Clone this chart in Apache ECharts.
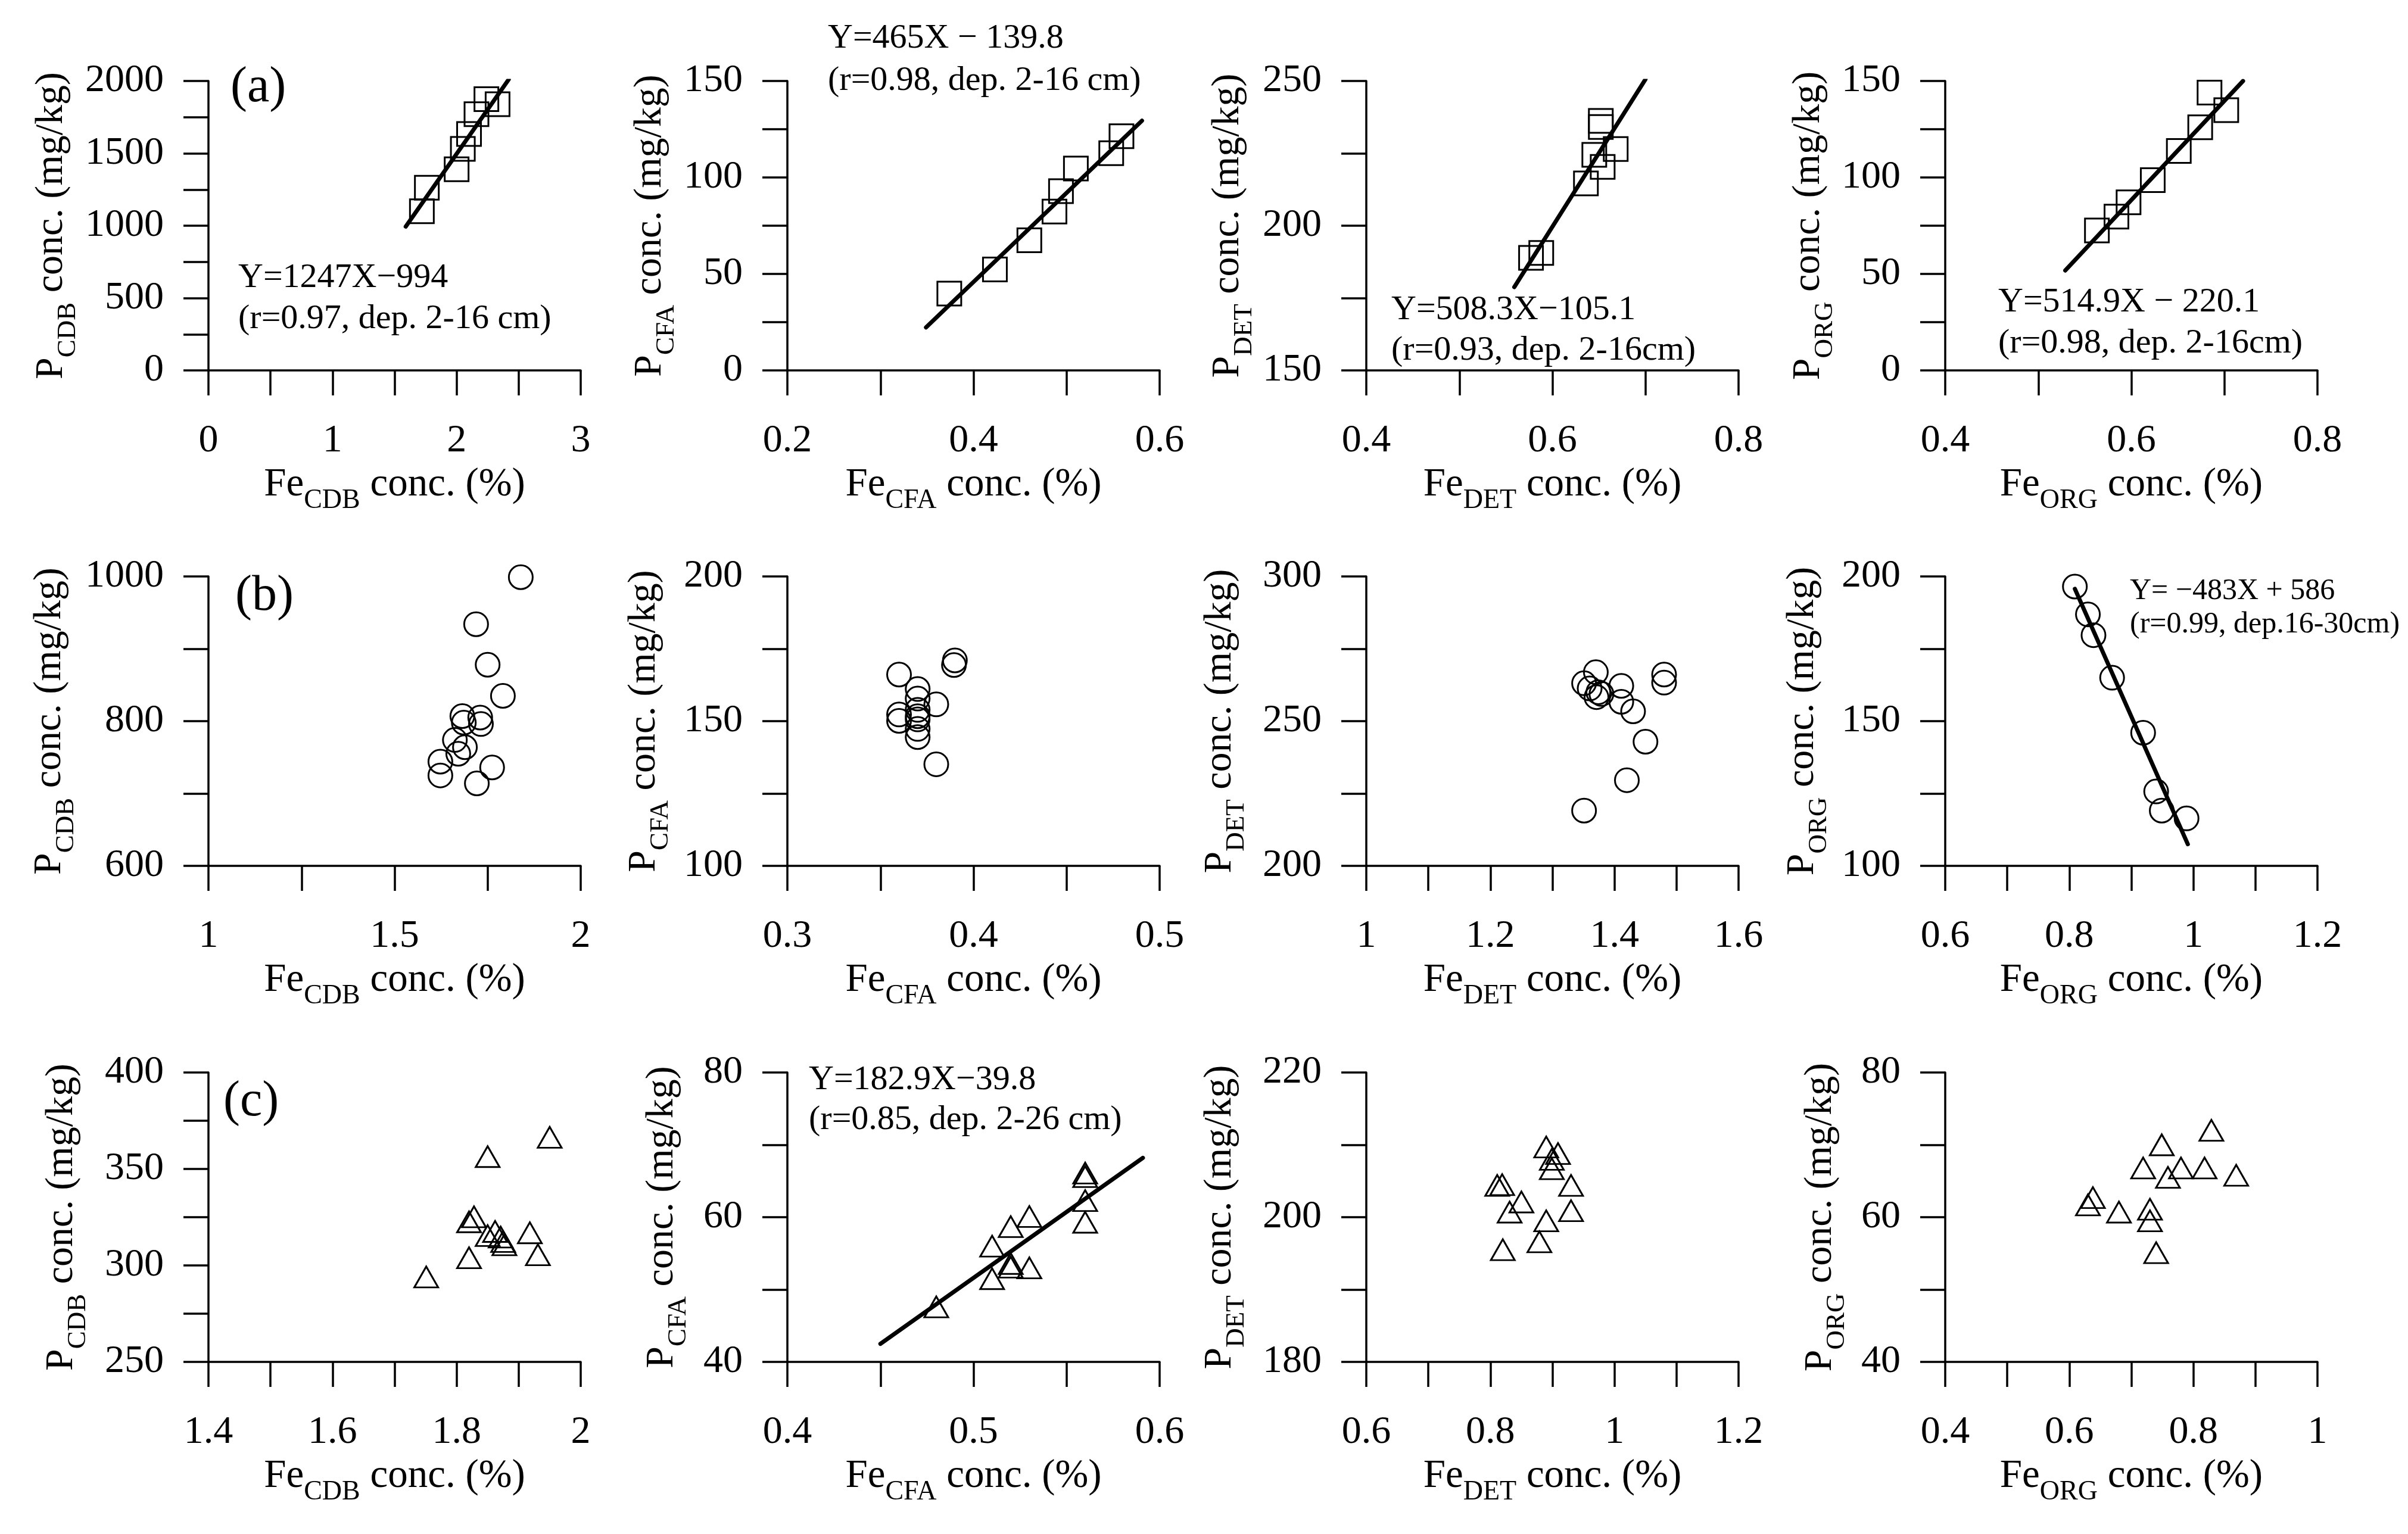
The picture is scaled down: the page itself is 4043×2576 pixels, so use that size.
<!DOCTYPE html>
<html><head><meta charset="utf-8">
<script src="https://cdn.jsdelivr.net/npm/echarts@6/dist/echarts.min.js"></script>
<style>html,body{margin:0;padding:0;background:#fff}#c{width:4043px;height:2576px}</style>
</head><body><div id="c"></div>
<script>
// ---------- data ----------
// row (a): depth 2-16 cm, squares
const aCdbX = [1.72, 1.76, 2.00, 2.05, 2.10, 2.16, 2.24, 2.33];
const aCdbY = [1100, 1262, 1390, 1531, 1634, 1771, 1874, 1840];
const aCdbLine = [[1.59, 994], [2.42, 2011]];
const aCfaX = [0.374, 0.423, 0.460, 0.487, 0.494, 0.510, 0.548, 0.559];
const aCfaY = [39.8, 52.3, 67.4, 82.3, 92.9, 104.6, 112.6, 121.4];
const aCfaLine = [[0.349, 22.3], [0.581, 129.4]];
const aDetX = [0.652, 0.652, 0.668, 0.645, 0.654, 0.636, 0.588, 0.577];
const aDetY = [236.2, 234.1, 226.5, 224.5, 220.3, 214.6, 190.6, 188.9];
const aDetLine = [[0.559, 178.8], [0.700, 250.6]];
const aOrgX = [0.684, 0.702, 0.674, 0.651, 0.623, 0.597, 0.584, 0.563];
const aOrgY = [144.0, 134.9, 126.0, 113.7, 98.6, 87.1, 79.7, 72.5];
const aOrgLine = [[0.529, 51.8], [0.720, 150.0]];
// row (b): circles
const bCdbX = [1.839, 1.719, 1.750, 1.791, 1.682, 1.686, 1.730, 1.732, 1.662, 1.689, 1.671, 1.623, 1.623, 1.762, 1.721];
const bCdbY = [999, 934, 878, 835, 807, 798, 805, 796, 774, 764, 755, 744, 725, 736, 714];
const bCfaX = [0.390, 0.3895, 0.360, 0.370, 0.370, 0.380, 0.370, 0.360, 0.360, 0.370, 0.370, 0.370, 0.370, 0.380];
const bCfaY = [171.0, 169.4, 166.1, 161.1, 157.8, 155.8, 153.9, 152.3, 150.1, 151.7, 150.6, 147.3, 144.5, 135.1];
const bDetX = [1.370, 1.480, 1.480, 1.351, 1.411, 1.360, 1.374, 1.371, 1.379, 1.411, 1.430, 1.450, 1.420, 1.351];
const bDetY = [266.9, 266.1, 263.3, 263.1, 262.2, 261.3, 260.0, 258.3, 259.4, 256.7, 253.4, 242.9, 229.6, 219.1];
const bOrgX = [0.809, 0.830, 0.839, 0.869, 0.919, 0.940, 0.949, 0.989];
const bOrgY = [196.5, 186.9, 179.7, 165.0, 146.0, 125.7, 119.1, 116.4];
const bOrgLine = [[0.809, 195.7], [0.991, 107.5]];
// row (c): triangles
const cCdbX = [1.950, 1.850, 1.828, 1.820, 1.862, 1.850, 1.871, 1.875, 1.877, 1.918, 1.931, 1.820, 1.751];
const cCdbY = [366.4, 356.4, 325.2, 322.6, 317.6, 315.5, 314.7, 312.4, 310.7, 316.9, 305.5, 304.0, 294.0];
const cCfaX = [0.56, 0.56, 0.56, 0.56, 0.53, 0.52, 0.51, 0.52, 0.52, 0.53, 0.51, 0.48];
const cCfaY = [66.1, 65.6, 62.3, 59.3, 60.1, 58.7, 56.0, 53.6, 53.1, 53.0, 51.5, 47.6];
const cCfaLine = [[0.45, 42.5], [0.591, 68.2]];
const cDetX = [0.890, 0.909, 0.899, 0.899, 0.819, 0.811, 0.930, 0.850, 0.831, 0.930, 0.890, 0.879, 0.820];
const cDetY = [209.7, 208.8, 208.0, 206.7, 204.5, 204.4, 204.4, 202.1, 200.7, 200.9, 199.5, 196.6, 195.5];
const cOrgX = [0.829, 0.749, 0.719, 0.780, 0.818, 0.759, 0.869, 0.638, 0.630, 0.680, 0.730, 0.730, 0.740];
const cOrgY = [72.0, 70.0, 66.8, 66.8, 66.8, 65.5, 65.8, 62.7, 61.7, 60.7, 61.1, 59.5, 55.1];
// axis ranges: [min, max, tick interval, label step]
const xRanges = [[0,3,0.5,1],[0.2,0.6,0.1,0.2],[0.4,0.8,0.1,0.2],[0.4,0.8,0.1,0.2],
                 [1,2,0.25,0.5],[0.3,0.5,0.05,0.1],[1,1.6,0.1,0.2],[0.6,1.2,0.1,0.2],
                 [1.4,2,0.1,0.2],[0.4,0.6,0.05,0.1],[0.6,1.2,0.1,0.2],[0.4,1,0.1,0.2]];
const yRanges = [[0,2000,250,500],[0,150,25,50],[150,250,25,50],[0,150,25,50],
                 [600,1000,100,200],[100,200,25,50],[200,300,25,50],[100,200,25,50],
                 [250,400,25,50],[40,80,10,20],[180,220,10,20],[40,80,10,20]];
const fractions = ['CDB','CFA','DET','ORG'];
const panelLabels = ['(a)','(b)','(c)'];
const equations = [
  ['Y=1247X\u2212994', '(r=0.97, dep. 2-16 cm)'],
  ['Y=465X \u2212 139.8', '(r=0.98, dep. 2-16 cm)'],
  ['Y=508.3X\u2212105.1', '(r=0.93, dep. 2-16cm)'],
  ['Y=514.9X \u2212 220.1', '(r=0.98, dep. 2-16cm)'],
  ['Y= \u2212483X + 586', '(r=0.99, dep.16-30cm)'],
  ['Y=182.9X\u221239.8', '(r=0.85, dep. 2-26 cm)']
];

// ---------- layout / style ----------
const FONT = '"Liberation Serif","Times New Roman",serif';
const gridLeft = [350, 1322, 2294, 3266], gridTop = [136, 968, 1801], W = 625, H = 486;
const yNameCenter = [[263,230,232,229],[266,240,245,239],[246,210,245,209]];
const panelData = [
  [aCdbX,aCdbY,aCdbLine],[aCfaX,aCfaY,aCfaLine],[aDetX,aDetY,aDetLine],[aOrgX,aOrgY,aOrgLine],
  [bCdbX,bCdbY,null],[bCfaX,bCfaY,null],[bDetX,bDetY,null],[bOrgX,bOrgY,bOrgLine],
  [cCdbX,cCdbY,null],[cCfaX,cCfaY,cCfaLine],[cDetX,cDetY,null],[cOrgX,cOrgY,null]
];
const symbols = ['rect','circle','triangle'];
const symSizes = [40, 40, [40, 35]];

function fmt(step){
  return function(v){
    const r = v / step;
    return Math.abs(r - Math.round(r)) < 1e-6 ? String(+v.toFixed(4)) : '';
  };
}
function richName(size, sub){
  return {
    rich: {
      m: {fontFamily: FONT, fontSize: size, lineHeight: 100, verticalAlign: 'middle', color: '#000'},
      s: {fontFamily: FONT, fontSize: Math.round(size*0.68), lineHeight: 36, verticalAlign: 'bottom', color: '#000'}
    }
  };
}

const grid = [], xAxis = [], yAxis = [], series = [], graphic = [];
for (let r = 0; r < 3; r++) {
  for (let c = 0; c < 4; c++) {
    const i = r*4 + c;
    const xr = xRanges[i], yr = yRanges[i], f = fractions[c];
    grid.push({left: gridLeft[c], top: gridTop[r], width: W, height: H, containLabel: false, outerBoundsMode: 'none'});
    const axisCommon = {
      gridIndex: i, type: 'value', splitLine: {show: false},
      axisLine: {show: true, onZero: false, lineStyle: {color: '#000', width: 3.5}},
      axisTick: {show: true, inside: false, length: 42, lineStyle: {color: '#000', width: 3.5}},
      nameLocation: 'middle'
    };
    xAxis.push(Object.assign({}, axisCommon, {
      min: xr[0], max: xr[1], interval: xr[2],
      axisLabel: {formatter: fmt(xr[3]), fontFamily: FONT, fontSize: 66, color: '#000', margin: 86},
      name: '{m|Fe}{s|' + f + '}{m| conc. (%)}',
      nameGap: 142, nameTextStyle: richName(67, f)
    }));
    yAxis.push(Object.assign({}, axisCommon, {
      min: yr[0], max: yr[1], interval: yr[2],
      axisLabel: {formatter: fmt(yr[3]), fontFamily: FONT, fontSize: 66, color: '#000', margin: 75},
      name: '{m|P}{s|' + f + '}{m| conc. (mg/kg)}',
      nameRotate: 90,
      nameGap: yNameCenter[r][c] - 50, nameTextStyle: richName(66, f)
    }));
    const d = panelData[i];
    series.push({
      type: 'scatter', xAxisIndex: i, yAxisIndex: i,
      data: d[0].map((x, k) => [x, d[1][k]]),
      symbol: symbols[r], symbolSize: symSizes[r],
      itemStyle: {color: 'rgba(0,0,0,0)', borderColor: '#000', borderWidth: 3, opacity: 1},
      emphasis: {disabled: true}, z: 2
    });
    if (d[2]) {
      series.push({
        type: 'line', xAxisIndex: i, yAxisIndex: i, data: d[2],
        symbol: 'none', showSymbol: false,
        lineStyle: {color: '#000', width: 7, cap: 'round'},
        emphasis: {disabled: true}, z: 3
      });
    }
  }
}

// panel letters
const letterPos = [[387,106],[395,960],[375,1809]];
panelLabels.forEach((t, r) => graphic.push({
  type: 'text', left: letterPos[r][0], top: letterPos[r][1],
  style: {text: t, font: '84px ' + FONT, fill: '#000', lineHeight: 84}
}));
// equations
const eqPos = [[400,432,58,69],[1390,29,58,71],[2336,487,58,68],[3355,473,58,69],[3576,965,50,56],[1358,1780,58,67]];
equations.forEach((e, k) => graphic.push({
  type: 'text', left: eqPos[k][0], top: eqPos[k][1],
  style: {text: e.join('\n'), font: eqPos[k][2] + 'px ' + FONT, fill: '#000', lineHeight: eqPos[k][3]}
}));

const chart = echarts.init(document.getElementById('c'), null, {renderer: 'canvas'});
chart.setOption({
  animation: false, backgroundColor: '#fff',
  textStyle: {fontFamily: FONT, color: '#000'},
  grid, xAxis, yAxis, series, graphic
});
</script></body></html>
